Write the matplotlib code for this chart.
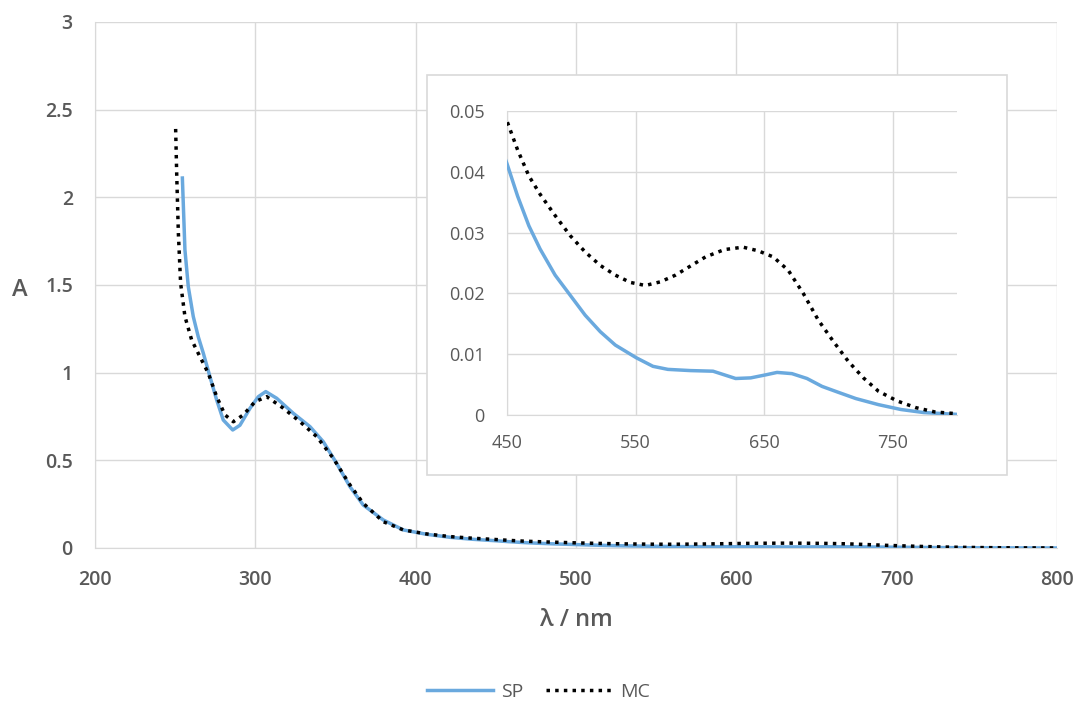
import matplotlib.pyplot as plt
from matplotlib.patches import Rectangle

# SP spectrum (wavelength in nm, absorbance)
sp_wl = [254.5, 256.1, 258.2, 261.3, 264.4, 267.6, 271.7, 275.9, 280.0, 285.9,
         290.4, 296.7, 301.9, 306.5, 313.3, 323.7, 334.1, 342.4, 350.7, 359.0,
         367.3, 379.8, 392.3, 406.9, 421.4, 435.0,
         450.0, 458.2, 467.0, 475.7, 487.4, 499.1, 510.8, 522.5, 534.2, 550.6,
         563.5, 575.1, 592.7, 610.2, 619.0, 627.8, 639.5, 651.2, 660.0, 671.6,
         683.3, 695.0, 706.7, 721.3, 738.9, 756.4, 774.0, 800.0]
sp_abs = [2.11, 1.70, 1.49, 1.32, 1.205, 1.11, 0.977, 0.844, 0.73, 0.673,
          0.70, 0.797, 0.863, 0.892, 0.854, 0.768, 0.692, 0.606, 0.483, 0.35,
          0.245, 0.16, 0.103, 0.078, 0.061, 0.05,
          0.0413, 0.036, 0.0311, 0.0273, 0.023, 0.0197, 0.0164, 0.0137, 0.0115, 0.0094,
          0.008, 0.0075, 0.0073, 0.0072, 0.0066, 0.006, 0.0061, 0.0066, 0.007, 0.0068,
          0.006, 0.0047, 0.0038, 0.0027, 0.0017, 0.0009, 0.0004, 0.0001]

# MC spectrum
mc_wl = [250.3, 251.0, 252.0, 253.4, 256.1, 260.3, 265.5, 270.7, 275.9, 281.1,
         286.3, 292.5, 299.8, 307.1, 317.5, 327.9, 338.3, 348.6, 359.0, 367.3,
         379.8, 392.3, 406.9, 421.4, 435.0,
         450.0, 458.2, 467.0, 475.7, 487.4, 499.1, 510.8, 522.5, 534.2, 545.9,
         557.6, 569.3, 581.0, 592.7, 604.4, 619.0, 633.6, 645.3, 657.0, 668.7,
         680.4, 692.1, 703.8, 715.5, 727.2, 738.9, 753.5, 768.1, 782.7, 800.0]
mc_abs = [2.39, 2.12, 1.795, 1.51, 1.32, 1.186, 1.09, 0.996, 0.863, 0.759,
          0.72, 0.759, 0.834, 0.863, 0.797, 0.72, 0.635, 0.512, 0.36, 0.255,
          0.15, 0.103, 0.08, 0.065, 0.056,
          0.0483, 0.0436, 0.0393, 0.0363, 0.0328, 0.0295, 0.0268, 0.0246, 0.023, 0.0218,
          0.0213, 0.0219, 0.023, 0.0245, 0.026, 0.0272, 0.0276, 0.027, 0.026, 0.0238,
          0.02, 0.0156, 0.0121, 0.0088, 0.0061, 0.0039, 0.0023, 0.0012, 0.0005, 0.0002]

main_xticks = [200, 300, 400, 500, 600, 700, 800]
main_yticks = [0, 0.5, 1, 1.5, 2, 2.5, 3]
inset_xticks = [450, 550, 650, 750]
inset_yticks = [0, 0.01, 0.02, 0.03, 0.04, 0.05]

SP_COLOR = '#6AA9DE'
GRID = '#D9D9D9'
TXT = '#595959'

plt.rcParams['font.family'] = ['Open Sans', 'DejaVu Sans']

fig = plt.figure(figsize=(10.77, 7.09), dpi=100)

ax = fig.add_axes([0.0882, 0.2271, 0.8932, 0.7419])
ax.plot(sp_wl, sp_abs, color=SP_COLOR, lw=2.5, label='SP', zorder=3)
ax.plot(mc_wl, mc_abs, color='black', lw=2.5, linestyle=(0, (1, 1.5)), label='MC', zorder=4)
ax.set_xlim(200, 800)
ax.set_ylim(0, 3)
ax.set_xticks(main_xticks)
ax.set_yticks(main_yticks)
ax.set_yticklabels([f'{v:g}' for v in main_yticks])
ax.grid(True, color=GRID, lw=1)
ax.set_axisbelow(True)
for s in ['top', 'right']:
    ax.spines[s].set_visible(False)
for s in ['left', 'bottom']:
    ax.spines[s].set_color(GRID)
ax.tick_params(length=0, labelsize=14, labelcolor=TXT)
ax.tick_params(axis='x', pad=16)
ax.tick_params(axis='y', pad=16)
for lbl in ax.get_xticklabels() + ax.get_yticklabels():
    lbl.set_fontweight('semibold')
ax.set_xlabel('λ / nm', fontsize=17, color=TXT, fontweight='semibold')
ax.xaxis.set_label_coords(0.5, -0.115)
ax.set_ylabel('A', fontsize=17, color=TXT, fontweight='semibold', rotation=0,
              ha='center', va='center')
ax.yaxis.set_label_coords(-0.078, 0.49)

# inset box
fig.patches.append(Rectangle((0.3965, 0.330), 0.5385, 0.5642, transform=fig.transFigure,
                             facecolor='white', edgecolor=GRID, lw=1.2, zorder=1))

ins = fig.add_axes([0.4708, 0.4147, 0.4178, 0.4288])
ins.set_zorder(2)
ins.patch.set_alpha(0)
ins.plot(sp_wl, sp_abs, color=SP_COLOR, lw=2.5, zorder=3)
ins.plot(mc_wl, mc_abs, color='black', lw=2.5, linestyle=(0, (1, 1.5)), zorder=4)
ins.set_xlim(450, 800)
ins.set_ylim(0, 0.05)
ins.set_xticks(inset_xticks)
ins.set_yticks(inset_yticks)
ins.set_yticklabels([f'{v:g}' for v in inset_yticks])
ins.grid(True, color=GRID, lw=1)
ins.set_axisbelow(True)
for s in ['top', 'right']:
    ins.spines[s].set_visible(False)
for s in ['left', 'bottom']:
    ins.spines[s].set_color(GRID)
ins.tick_params(length=0, labelsize=13, labelcolor=TXT)
ins.tick_params(axis='x', pad=14)
ins.tick_params(axis='y', pad=16)

fig.legend(loc='center', bbox_to_anchor=(0.5, 0.024), ncol=2, frameon=False,
           fontsize=14, handlelength=3.4, handletextpad=0.4, columnspacing=1.2,
           labelcolor=TXT)

plt.savefig('out.png', dpi=100)
